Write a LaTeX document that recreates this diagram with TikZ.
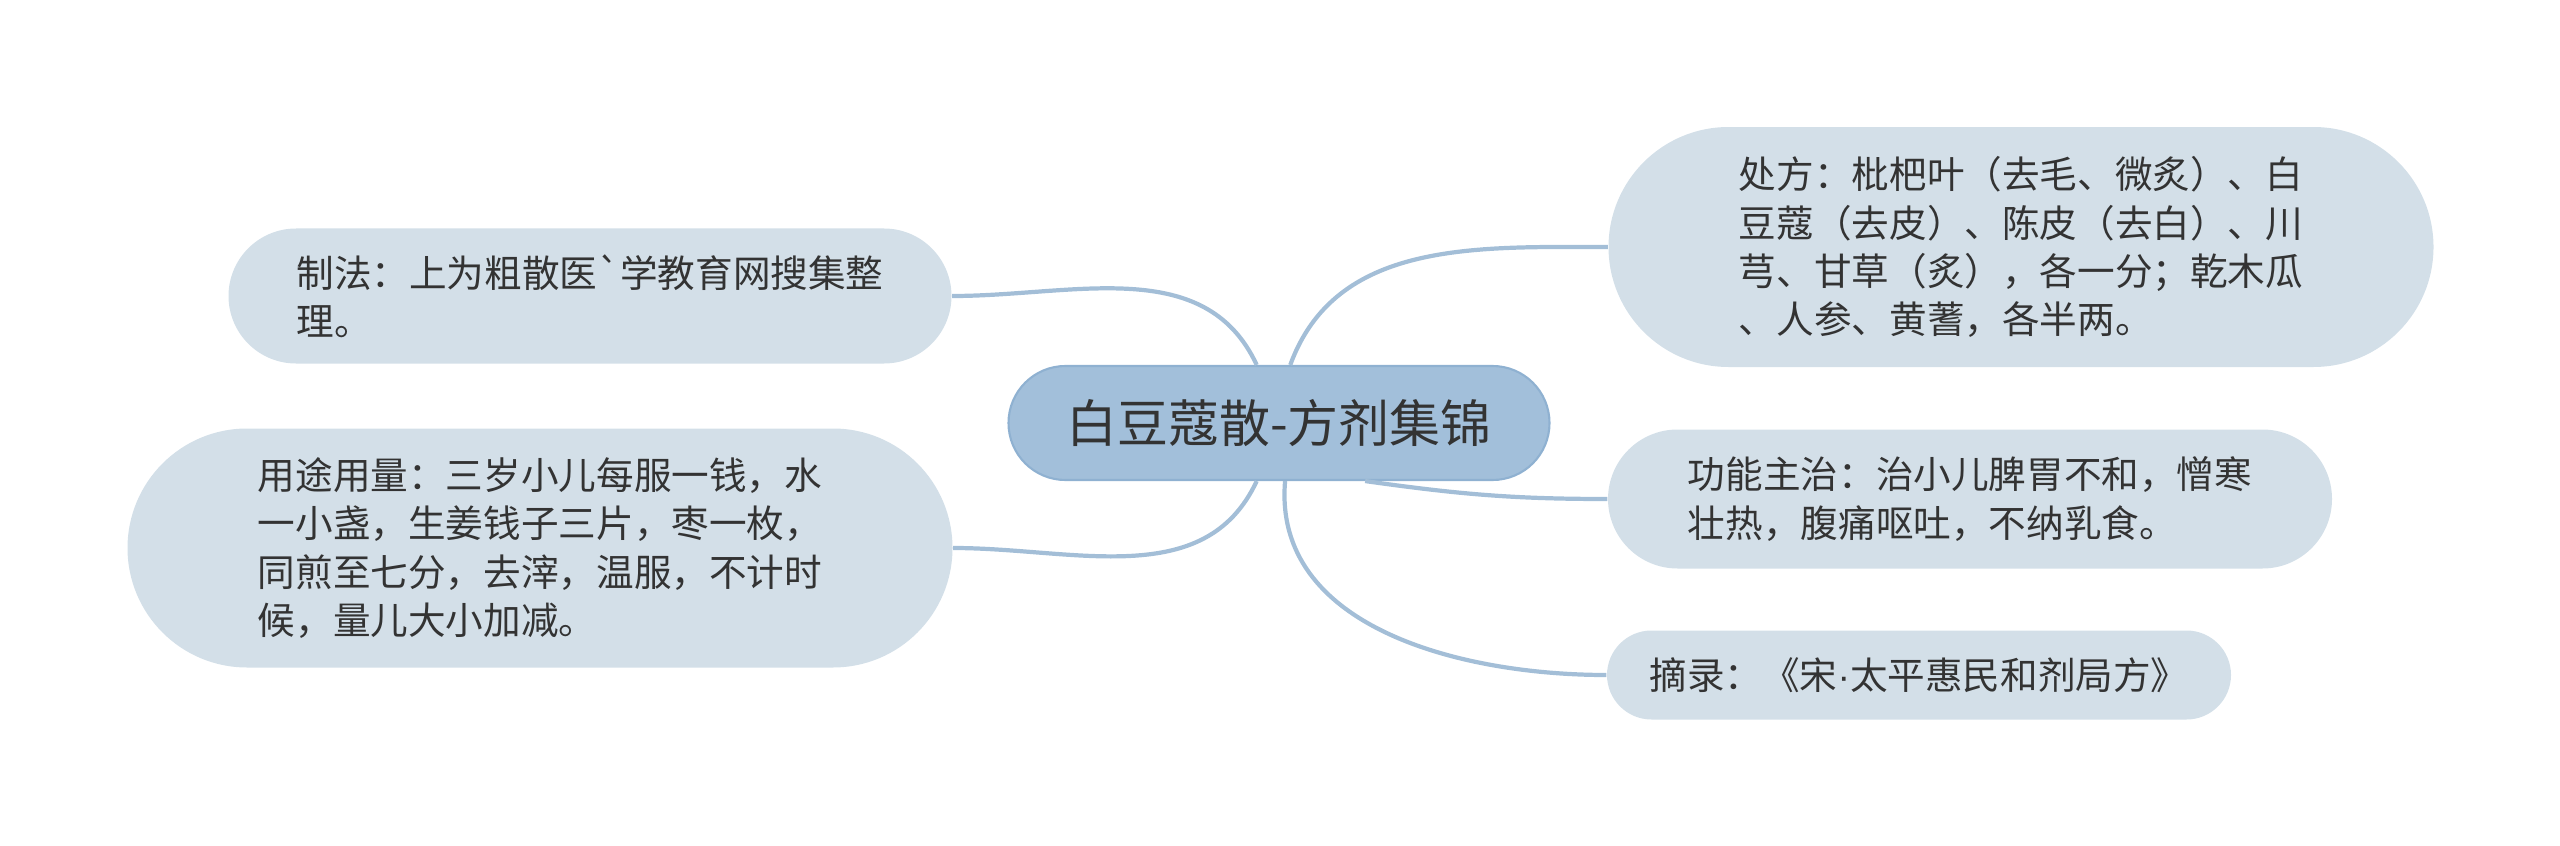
\documentclass[tikz,border=0pt]{standalone}
\usepackage{fontspec}
\newfontfamily\cjk{Noto Sans CJK SC}
\newfontfamily\dotfont{Liberation Sans}
\usetikzlibrary{shapes.misc}
\definecolor{hubblue}{HTML}{A2BFDA}
\definecolor{hubline}{HTML}{8FB1D1}
\definecolor{leafgray}{HTML}{D3DFE8}
\definecolor{linkblue}{HTML}{A3BED7}
\definecolor{inkgray}{HTML}{333333}

\begin{document}
\begin{tikzpicture}[
  hub/.style={rounded rectangle, draw=hubline, line width=0.6pt, fill=hubblue,
      text=inkgray, font=\cjk\fontsize{14.5}{17}\selectfont, inner sep=0pt},
  leaf/.style={rounded rectangle, fill=leafgray, align=left, inner sep=0pt,
      text=inkgray, font=\cjk\fontsize{10.7}{13.7}\selectfont},
  link/.style={linkblue, line width=1.2pt}]

% Canvas
\useasboundingbox (0,0) rectangle (25.6,8.45);

% Centre topic
\node[hub, minimum width=5.41cm, minimum height=1.14cm]
      (root) at (12.79,4.22) {白豆蔻散-方剂集锦};

% Right side
\node[leaf, minimum width=8.25cm, minimum height=2.40cm]
      (chufang) at (20.21,5.98) {处方：枇杷叶（去毛、微炙）、白\\
      豆蔻（去皮）、陈皮（去白）、川\\
      芎、甘草（炙），各一分；乾木瓜\\
      、人参、黄蓍，各半两。};

\node[leaf, minimum width=7.24cm, minimum height=1.39cm]
      (gongneng) at (19.70,3.46) {功能主治：治小儿脾胃不和，憎寒\\
      壮热，腹痛呕吐，不纳乳食。};

\node[leaf, minimum width=6.24cm, minimum height=0.89cm]
      (zhailu) at (19.19,1.70) {摘录：《宋{\dotfont ·}太平惠民和剂局方》};

% Left side
\node[leaf, minimum width=7.23cm, minimum height=1.35cm]
      (zhifa) at (5.90,5.49) {制法：上为粗散医`学教育网搜集整\\
      理。};

\node[leaf, minimum width=8.25cm, minimum height=2.39cm]
      (yongtu) at (5.40,2.97) {用途用量：三岁小儿每服一钱，水\\
      一小盏，生姜钱子三片，枣一枚，\\
      同煎至七分，去滓，温服，不计时\\
      候，量儿大小加减。};

% Links
\draw[link] (root.111) to[out=115, in=0] (zhifa.east);
\draw[link] (root.79) to[out=70, in=180] (chufang.west);
\draw[link] (root.-34) to[out=-8, in=180] (gongneng.west);
\draw[link] (root.-84) to[out=-95, in=180] (zhailu.west);
\draw[link] (root.-111) to[out=-115, in=0] (yongtu.east);

\end{tikzpicture}
\end{document}
